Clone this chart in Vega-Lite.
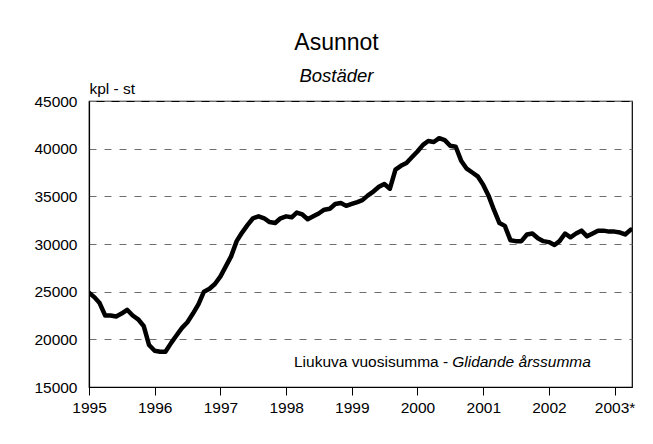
{
  "$schema": "https://vega.github.io/schema/vega-lite/v6.json",
  "width": 543,
  "height": 286,
  "autosize": {"type": "none"},
  "padding": {"left": 89, "top": 101, "right": 21, "bottom": 57},
  "background": "white",
  "config": {
    "font": "Liberation Sans",
    "view": {"stroke": "black", "strokeWidth": 1.2}
  },
  "title": {
    "text": "Asunnot",
    "subtitle": "Bostäder",
    "anchor": "middle",
    "dx": -24,
    "offset": -4,
    "font": "Liberation Sans",
    "fontSize": 23,
    "fontWeight": "normal",
    "color": "black",
    "subtitleFont": "Liberation Sans",
    "subtitleFontSize": 18.5,
    "subtitleFontStyle": "italic",
    "subtitleColor": "black",
    "subtitlePadding": 12
  },
  "data": {
    "values": [
      {"date": "1995-01-01", "value": 24900},
      {"date": "1995-02-01", "value": 24400},
      {"date": "1995-03-01", "value": 23800},
      {"date": "1995-04-01", "value": 22500},
      {"date": "1995-05-01", "value": 22500},
      {"date": "1995-06-01", "value": 22400},
      {"date": "1995-07-01", "value": 22700},
      {"date": "1995-08-01", "value": 23100},
      {"date": "1995-09-01", "value": 22500},
      {"date": "1995-10-01", "value": 22100},
      {"date": "1995-11-01", "value": 21400},
      {"date": "1995-12-01", "value": 19400},
      {"date": "1996-01-01", "value": 18800},
      {"date": "1996-02-01", "value": 18700},
      {"date": "1996-03-01", "value": 18700},
      {"date": "1996-04-01", "value": 19600},
      {"date": "1996-05-01", "value": 20400},
      {"date": "1996-06-01", "value": 21200},
      {"date": "1996-07-01", "value": 21800},
      {"date": "1996-08-01", "value": 22700},
      {"date": "1996-09-01", "value": 23700},
      {"date": "1996-10-01", "value": 25000},
      {"date": "1996-11-01", "value": 25300},
      {"date": "1996-12-01", "value": 25800},
      {"date": "1997-01-01", "value": 26600},
      {"date": "1997-02-01", "value": 27700},
      {"date": "1997-03-01", "value": 28700},
      {"date": "1997-04-01", "value": 30300},
      {"date": "1997-05-01", "value": 31200},
      {"date": "1997-06-01", "value": 32000},
      {"date": "1997-07-01", "value": 32700},
      {"date": "1997-08-01", "value": 32900},
      {"date": "1997-09-01", "value": 32700},
      {"date": "1997-10-01", "value": 32300},
      {"date": "1997-11-01", "value": 32200},
      {"date": "1997-12-01", "value": 32700},
      {"date": "1998-01-01", "value": 32900},
      {"date": "1998-02-01", "value": 32800},
      {"date": "1998-03-01", "value": 33300},
      {"date": "1998-04-01", "value": 33100},
      {"date": "1998-05-01", "value": 32600},
      {"date": "1998-06-01", "value": 32900},
      {"date": "1998-07-01", "value": 33200},
      {"date": "1998-08-01", "value": 33600},
      {"date": "1998-09-01", "value": 33700},
      {"date": "1998-10-01", "value": 34200},
      {"date": "1998-11-01", "value": 34300},
      {"date": "1998-12-01", "value": 34000},
      {"date": "1999-01-01", "value": 34200},
      {"date": "1999-02-01", "value": 34400},
      {"date": "1999-03-01", "value": 34600},
      {"date": "1999-04-01", "value": 35100},
      {"date": "1999-05-01", "value": 35500},
      {"date": "1999-06-01", "value": 36000},
      {"date": "1999-07-01", "value": 36300},
      {"date": "1999-08-01", "value": 35800},
      {"date": "1999-09-01", "value": 37800},
      {"date": "1999-10-01", "value": 38200},
      {"date": "1999-11-01", "value": 38500},
      {"date": "1999-12-01", "value": 39100},
      {"date": "2000-01-01", "value": 39700},
      {"date": "2000-02-01", "value": 40400},
      {"date": "2000-03-01", "value": 40800},
      {"date": "2000-04-01", "value": 40700},
      {"date": "2000-05-01", "value": 41100},
      {"date": "2000-06-01", "value": 40900},
      {"date": "2000-07-01", "value": 40300},
      {"date": "2000-08-01", "value": 40200},
      {"date": "2000-09-01", "value": 38700},
      {"date": "2000-10-01", "value": 37900},
      {"date": "2000-11-01", "value": 37500},
      {"date": "2000-12-01", "value": 37100},
      {"date": "2001-01-01", "value": 36200},
      {"date": "2001-02-01", "value": 35000},
      {"date": "2001-03-01", "value": 33600},
      {"date": "2001-04-01", "value": 32200},
      {"date": "2001-05-01", "value": 31900},
      {"date": "2001-06-01", "value": 30400},
      {"date": "2001-07-01", "value": 30300},
      {"date": "2001-08-01", "value": 30300},
      {"date": "2001-09-01", "value": 31000},
      {"date": "2001-10-01", "value": 31100},
      {"date": "2001-11-01", "value": 30600},
      {"date": "2001-12-01", "value": 30300},
      {"date": "2002-01-01", "value": 30200},
      {"date": "2002-02-01", "value": 29900},
      {"date": "2002-03-01", "value": 30300},
      {"date": "2002-04-01", "value": 31100},
      {"date": "2002-05-01", "value": 30700},
      {"date": "2002-06-01", "value": 31100},
      {"date": "2002-07-01", "value": 31400},
      {"date": "2002-08-01", "value": 30800},
      {"date": "2002-09-01", "value": 31100},
      {"date": "2002-10-01", "value": 31400},
      {"date": "2002-11-01", "value": 31400},
      {"date": "2002-12-01", "value": 31300},
      {"date": "2003-01-01", "value": 31300},
      {"date": "2003-02-01", "value": 31200},
      {"date": "2003-03-01", "value": 31000},
      {"date": "2003-04-01", "value": 31500}
    ]
  },
  "encoding": {
    "x": {
      "field": "date",
      "type": "temporal",
      "scale": {
        "type": "utc",
        "domain": [
          {"year": 1995, "month": 1, "date": 1, "utc": true},
          {"year": 2003, "month": 4, "date": 8, "utc": true}
        ]
      },
      "axis": {
        "title": null,
        "values": [
          {"year": 1995, "month": 1, "date": 1, "utc": true},
          {"year": 1996, "month": 1, "date": 1, "utc": true},
          {"year": 1997, "month": 1, "date": 1, "utc": true},
          {"year": 1998, "month": 1, "date": 1, "utc": true},
          {"year": 1999, "month": 1, "date": 1, "utc": true},
          {"year": 2000, "month": 1, "date": 1, "utc": true},
          {"year": 2001, "month": 1, "date": 1, "utc": true},
          {"year": 2002, "month": 1, "date": 1, "utc": true},
          {"year": 2003, "month": 1, "date": 1, "utc": true}
        ],
        "labelExpr": "utcFormat(datum.value, '%Y') + (utcyear(datum.value) == 2003 ? '*' : '')",
        "grid": false,
        "domainColor": "black",
        "domainWidth": 1.2,
        "ticks": true,
        "tickSize": 8,
        "tickColor": "black",
        "labelFont": "Liberation Sans",
        "labelFontSize": 15.5,
        "labelColor": "black",
        "labelPadding": 5,
        "labelFlush": false,
        "labelOverlap": false
      }
    },
    "y": {
      "field": "value",
      "type": "quantitative",
      "scale": {"domain": [15000, 45000], "nice": false, "zero": false},
      "axis": {
        "title": "kpl - st",
        "titleAngle": 0,
        "titleAlign": "left",
        "titleBaseline": "alphabetic",
        "titleX": 0,
        "titleY": -8,
        "titleFont": "Liberation Sans",
        "titleFontSize": 15.5,
        "titleFontWeight": "normal",
        "titleColor": "black",
        "values": [15000, 20000, 25000, 30000, 35000, 40000, 45000],
        "format": "d",
        "ticks": false,
        "labelPadding": 12,
        "labelFont": "Liberation Sans",
        "labelFontSize": 15.5,
        "labelColor": "black",
        "domainColor": "black",
        "domainWidth": 1.2,
        "grid": true,
        "gridColor": "#6e6e6e",
        "gridDash": [7, 8],
        "gridWidth": 1
      }
    }
  },
  "layer": [
    {
      "mark": {"type": "line", "color": "black", "strokeWidth": 4.5, "strokeJoin": "round", "strokeCap": "round", "clip": true}
    },
    {
      "transform": [{"filter": "datum.value == 31500"}],
      "mark": {"type": "text", "align": "right", "baseline": "alphabetic", "font": "Liberation Sans", "fontSize": 15.5, "color": "black", "dx": 0},
      "encoding": {
        "x": {"datum": {"year": 2000, "month": 6, "date": 20, "utc": true}, "type": "temporal"},
        "y": {"datum": 17100},
        "text": {"value": "Liukuva vuosisumma -"}
      }
    },
    {
      "transform": [{"filter": "datum.value == 31500"}],
      "mark": {"type": "text", "align": "left", "baseline": "alphabetic", "font": "Liberation Sans", "fontSize": 15.5, "fontStyle": "italic", "color": "black", "dx": 4},
      "encoding": {
        "x": {"datum": {"year": 2000, "month": 6, "date": 20, "utc": true}, "type": "temporal"},
        "y": {"datum": 17100},
        "text": {"value": "Glidande årssumma"}
      }
    }
  ]
}
